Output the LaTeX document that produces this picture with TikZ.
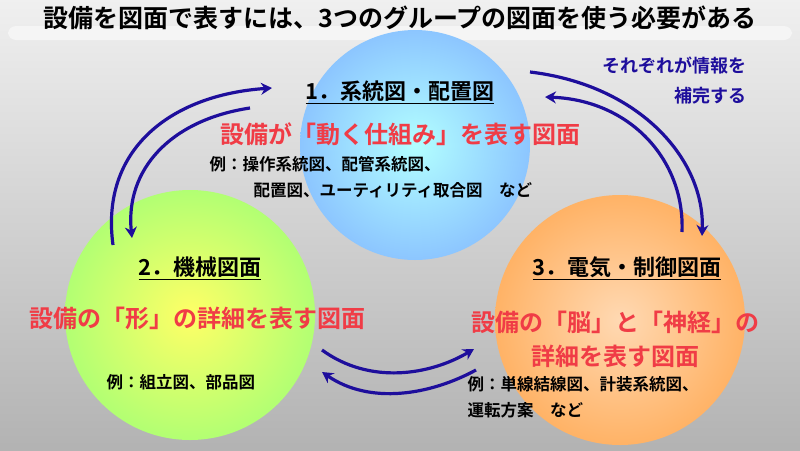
\documentclass[tikz,border=0pt]{standalone}
\usepackage{fontspec}
\setmainfont{Noto Sans CJK JP}[BoldFont={* Bold}]
\usetikzlibrary{arrows.meta}

\definecolor{arrowblue}{HTML}{1E0E9C}
\definecolor{headred}{HTML}{F03C46}

\begin{document}
\begin{tikzpicture}[x=1pt,y=-1pt,
  flow/.style={-{Stealth[length=11pt,width=12pt]},line width=3.2pt,draw=arrowblue},
  head/.style={font=\bfseries\fontsize{22}{26}\selectfont,text=black},
  lead/.style={font=\bfseries\fontsize{24}{28}\selectfont,text=headred},
  sample/.style={font=\bfseries\fontsize{16.5}{20}\selectfont,text=black,anchor=west},
  note/.style={font=\bfseries\fontsize{18}{22}\selectfont,text=arrowblue,anchor=east}]
  \useasboundingbox (0,0) rectangle (800,450);
  \shade[top color=gray!12,bottom color=gray!60] (0,0) rectangle (800,450);
  % title bar
  \fill[white!92!gray,rounded corners=8pt] (8,26) rectangle (792,40);
  \node[font=\bfseries\fontsize{25}{30}\selectfont] (title) at (400,18) {設備を図面で表すには、3つのグループの図面を使う必要がある};
  % circles
  \shade[inner color=cyan!30!white,outer color=cyan!50!blue!45!white] (415,145) circle (115);
  \shade[inner color=yellow!60!white,outer color=lime!60!green!55!white] (190,315) circle (125);
  \shade[inner color=orange!30!white,outer color=orange!60!white] (620,320) circle (125);
  % group 1
  \node[head] (g1) at (400,92) {\underline{1．系統図・配置図}};
  \node[lead] (g1a) at (400,134) {設備が「動く仕組み」を表す図面};
  \node[sample] (g1b) at (206,164) {例：操作系統図、配管系統図、};
  \node[sample] (g1c) at (250,190) {配置図、ユーティリティ取合図　など};
  % group 2
  \node[head] (g2) at (200,268) {\underline{2．機械図面}};
  \node[lead] (g2a) at (197,318) {設備の「形」の詳細を表す図面};
  \node[sample] (g2b) at (103,382) {例：組立図、部品図};
  % group 3
  \node[head] (g3) at (627,268) {\underline{3．電気・制御図面}};
  \node[lead] (g3a) at (615,322) {設備の「脳」と「神経」の};
  \node[lead] (g3b) at (615,356) {詳細を表す図面};
  \node[sample] (g3c) at (464,384) {例：単線結線図、計装系統図、};
  \node[sample] (g3d) at (464,410) {運転方案　など};
  \node[note] (n1) at (750,66) {それぞれが情報を};
  \node[note] (n2) at (750,96) {補完する};
  % connector ends
  \coordinate (a1) at (113,245); \coordinate (a2) at (272,88);
  \coordinate (b1) at (250,108); \coordinate (b2) at (132,238);
  \coordinate (c1) at (530,72);  \coordinate (c2) at (702,236);
  \coordinate (d1) at (682,232); \coordinate (d2) at (545,97);
  \coordinate (e1) at (322,350); \coordinate (e2) at (474,349);
  \coordinate (f1) at (476,370); \coordinate (f2) at (322,372);
  \draw[flow] (a1) .. controls (100,150) and (170,95) .. (a2);
  \draw[flow] (b1) .. controls (170,120) and (125,170) .. (b2);
  \draw[flow] (c1) .. controls (640,85) and (705,160) .. (c2);
  \draw[flow] (d1) .. controls (685,160) and (630,100) .. (d2);
  \draw[flow] (e1) .. controls (370,385) and (430,375) .. (e2);
  \draw[flow] (f1) .. controls (430,395) and (370,405) .. (f2);
\end{tikzpicture}
\end{document}
